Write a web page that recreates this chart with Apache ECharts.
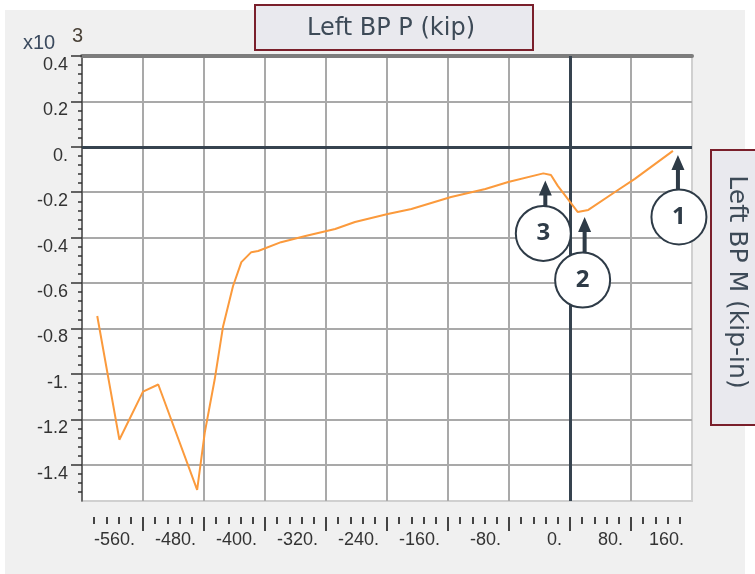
<!DOCTYPE html>
<html>
<head>
<meta charset="utf-8">
<title>Left BP P-M</title>
<script src="https://cdn.jsdelivr.net/npm/echarts@6/dist/echarts.min.js"></script>
<style>
  html, body { margin: 0; padding: 0; background: #fff; }
  #pm { width: 755px; height: 574px; }
</style>
</head>
<body>
<div id="pm"></div>
<script>
// axial load P (kip) and moment M (kip-in)
const pValues = [-620, -591, -560, -540, -489, -479, -466, -455, -442, -431, -418, -409, -379, -347,
  -308, -282, -239, -208, -156, -111, -81, -35, -25, -16, 10, 24, 59, 85, 135];
const mValues = [-745, -1290, -1078, -1047, -1511, -1259, -1025, -791, -614, -508, -464, -459, -420, -393,
  -362, -331, -296, -274, -221, -186, -155, -117, -124, -172, -287, -278, -199, -141, -18];

// axis ticks and labels
const pTicks = [-560, -480, -400, -320, -240, -160, -80, 0, 80];
const pLabels = [-560, -480, -400, -320, -240, -160, -80, 0, 80, 160];
const mTicks = [-1400, -1200, -1000, -800, -600, -400, -200, 0, 200, 400];

// numbered call-outs and the point each one points at
const calloutText = ['1', '2', '3'];
const calloutIndex = [28, 24, 21];

var chart = echarts.init(document.getElementById('pm'));

const dark = '#2e3b47';
// arrow length / offsets of the call-outs (pixels)
const calloutStyle = [
  { dx: 5, tip: 4, len: 35, cx: 6, cy: 66 },
  { dx: 7, tip: 5, len: 36, cx: 5, cy: 68 },
  { dx: 2, tip: 7, len: 28, cx: 0, cy: 60 }
];

function arrowPath(len) {
  return 'path://M6.5,0 L13,15 L8.5,15 L8.5,' + len + ' L4.5,' + len + ' L4.5,15 L0,15 Z';
}

function mLabel(v) {
  let s = (v / 1000).toFixed(1);
  if (s.endsWith('.0')) s = s.slice(0, -1);
  return s;
}

const calloutData = [];
calloutIndex.forEach((idx, k) => {
  const c = [pValues[idx], mValues[idx]];
  const s = calloutStyle[k];
  calloutData.push({
    coord: c,
    symbol: arrowPath(s.len),
    symbolSize: [13, s.len],
    symbolOffset: [s.dx, s.tip + s.len / 2],
    itemStyle: { color: dark },
    label: { show: false }
  });
  calloutData.push({
    coord: c,
    symbol: 'circle',
    symbolSize: 55,
    symbolOffset: [s.cx, s.cy],
    itemStyle: { color: '#fff', borderColor: dark, borderWidth: 2 },
    label: {
      show: true,
      position: 'inside',
      formatter: calloutText[k],
      fontSize: 24,
      fontWeight: 'bold',
      fontFamily: 'Open Sans',
      color: dark
    }
  });
});

const tickLabelStyle = {
  fontSize: 18,
  color: '#333',
  fontFamily: 'Liberation Sans, Arial'
};

let option = {
  backgroundColor: '#f0f0f0',
  animation: false,
  grid: {
    left: 82,
    right: 63,
    top: 56,
    bottom: 73,
    show: true,
    backgroundColor: '#fff',
    borderColor: '#d0d0d0',
    borderWidth: 2
  },
  xAxis: [
    {
      type: 'value',
      min: -640,
      max: 160,
      interval: 80,
      position: 'bottom',
      offset: 16,
      axisLine: { show: false, onZero: false },
      axisTick: { show: true, length: 14, customValues: pTicks, lineStyle: { color: '#444', width: 2 } },
      minorTick: { show: true, splitNumber: 5, length: 7, lineStyle: { color: '#444', width: 2 } },
      axisLabel: Object.assign({
        customValues: pLabels,
        align: 'right',
        padding: [0, 8, 0, 0],
        margin: 14,
        formatter: (v) => v + '.'
      }, tickLabelStyle),
      splitLine: { show: true, lineStyle: { color: '#a9a9a9', width: 2 } }
    },
    {
      // heavy top frame line
      type: 'value',
      min: -640,
      max: 160,
      position: 'top',
      axisLine: { show: true, onZero: false, lineStyle: { color: '#7d7d7d', width: 4 } },
      axisTick: { show: false },
      axisLabel: { show: false },
      splitLine: { show: false }
    }
  ],
  yAxis: {
    type: 'value',
    min: -1560,
    max: 400,
    splitNumber: 10,
    minInterval: 200,
    maxInterval: 200,
    axisLine: { show: true, onZero: false, lineStyle: { color: '#4a4a4a', width: 1.5 } },
    axisTick: { show: true, length: 11, customValues: mTicks, lineStyle: { color: '#333', width: 1.5 } },
    minorTick: { show: true, splitNumber: 5, length: 4, lineStyle: { color: '#333', width: 1.5 } },
    axisLabel: Object.assign({
      customValues: mTicks,
      margin: 14,
      verticalAlign: 'top',
      formatter: mLabel
    }, tickLabelStyle),
    splitLine: { show: true, lineStyle: { color: '#a9a9a9', width: 2 } }
  },
  graphic: [
    { type: 'rect', shape: { x: 0, y: 0, width: 755, height: 10 }, style: { fill: '#fff' }, silent: true },
    { type: 'rect', shape: { x: 0, y: 0, width: 5, height: 574 }, style: { fill: '#fff' }, silent: true },
    { type: 'rect', shape: { x: 745, y: 0, width: 10, height: 574 }, style: { fill: '#fff' }, silent: true },
    {
      type: 'rect',
      shape: { x: 255, y: 5, width: 278, height: 45 },
      style: { fill: '#e9e9ee', stroke: '#7a1f2b', lineWidth: 2 },
      silent: true
    },
    {
      type: 'text',
      x: 391,
      y: 29,
      style: {
        text: 'Left BP P (kip)',
        fontSize: 24,
        fontFamily: 'DejaVu Sans',
        fill: '#3d4a57',
        align: 'center',
        verticalAlign: 'middle',
        textAlign: 'center',
        textVerticalAlign: 'middle'
      },
      silent: true
    },
    {
      type: 'rect',
      shape: { x: 711, y: 150, width: 50, height: 275 },
      style: { fill: '#e9e9ee', stroke: '#7a1f2b', lineWidth: 2 },
      silent: true
    },
    {
      type: 'text',
      x: 736,
      y: 282,
      rotation: -Math.PI / 2,
      style: {
        text: 'Left BP M (kip-in)',
        fontSize: 25,
        fontFamily: 'DejaVu Sans',
        fill: '#3d4a57',
        align: 'center',
        verticalAlign: 'middle',
        textAlign: 'center',
        textVerticalAlign: 'middle'
      },
      silent: true
    },
    {
      type: 'text',
      x: 23,
      y: 33,
      style: { text: 'x10', fontSize: 20, fontFamily: 'Liberation Sans, Arial', fill: '#3b4a5e' },
      silent: true
    },
    {
      type: 'text',
      x: 72,
      y: 26,
      style: { text: '3', fontSize: 20, fontFamily: 'Liberation Sans, Arial', fill: '#4a4238' },
      silent: true
    }
  ],
  series: [
    {
      type: 'line',
      data: pValues.map((p, i) => [p, mValues[i]]),
      symbol: 'none',
      lineStyle: { color: '#fb9a3c', width: 2 },
      markLine: {
        silent: true,
        symbol: ['none', 'none'],
        label: { show: false },
        z: 3,
        data: [
          { yAxis: 0, lineStyle: { color: '#36434f', width: 3, type: 'solid' } },
          { xAxis: 0, lineStyle: { color: '#36434f', width: 3, type: 'solid' } }
        ]
      },
      markPoint: {
        silent: true,
        z: 10,
        data: calloutData
      }
    }
  ]
};

chart.setOption(option);
</script>
</body>
</html>
